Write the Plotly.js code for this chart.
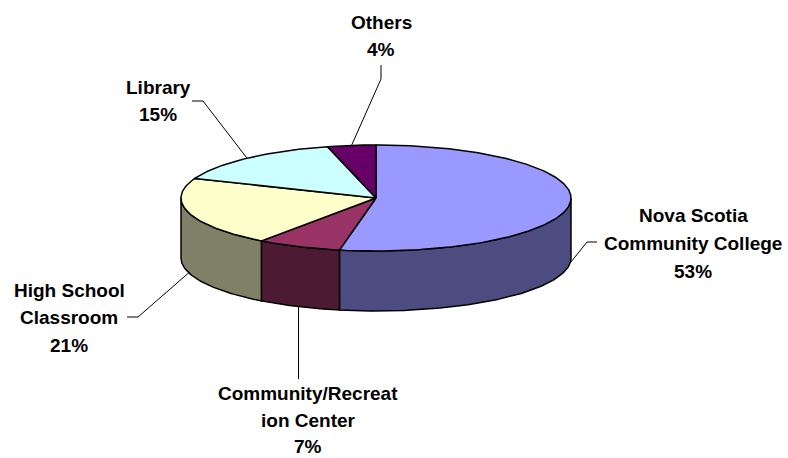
<!DOCTYPE html>
<html>
<head>
<meta charset="utf-8">
<script src="https://cdn.plot.ly/plotly-3.0.1.min.js"></script>
<style>html,body{margin:0;padding:0;background:#fff;}#chart{width:788px;height:458px;}</style>
</head>
<body>
<div id="chart"></div>
<script>
// ---- data ----
const categories = ['Nova Scotia Community College', 'Community/Recreation Center', 'High School Classroom', 'Library', 'Others'];
const values = [53, 7, 21, 15, 4];
const nameLines = [['Nova Scotia', 'Community College'], ['Community/Recreat', 'ion Center'], ['High School', 'Classroom'], ['Library'], ['Others']];
const topColors = ['#9999FF', '#993366', '#FFFFCC', '#CCFFFF', '#660066'];
const sideColors = ['#4C4C80', '#4C1A33', '#808066', '#668080', '#330033'];

// ---- geometry of the 3D pie (layout) ----
const CX = 376, CY = 198, A = 195, B = 53, DEPTH = 60;
function pt(deg, dy) {
  const r = deg * Math.PI / 180;
  return [CX + A * Math.sin(r), CY - B * Math.cos(r) + (dy || 0)];
}
function arc(from, to, dy) {
  const pts = [];
  const n = Math.max(2, Math.ceil(Math.abs(to - from)));
  for (let i = 0; i <= n; i++) pts.push(pt(from + (to - from) * i / n, dy));
  return pts;
}

const total = values.reduce((s, v) => s + v, 0);
let acc = 0;
const slices = values.map(v => { const s = acc; acc += v / total * 360; return [s, acc]; });

const traces = [];
// side walls (front half only)
slices.forEach((sl, i) => {
  const lo = Math.max(sl[0], 90), hi = Math.min(sl[1], 270);
  if (lo >= hi) return;
  const pts = arc(lo, hi, 0).concat(arc(hi, lo, DEPTH));
  pts.push(pts[0]);
  traces.push({x: pts.map(p => p[0]), y: pts.map(p => p[1]), mode: 'lines', fill: 'toself',
    fillcolor: sideColors[i], line: {color: '#000', width: 1.5}, hoverinfo: 'skip', showlegend: false});
});
// top faces
slices.forEach((sl, i) => {
  const pts = [[CX, CY]].concat(arc(sl[0], sl[1], 0));
  pts.push([CX, CY]);
  traces.push({x: pts.map(p => p[0]), y: pts.map(p => p[1]), mode: 'lines', fill: 'toself',
    fillcolor: topColors[i], line: {color: '#000', width: 1.5}, hoverinfo: 'skip', showlegend: false});
});

// label placement (layout): line centres and leader start points
const labelX = [693, 308, 69, 158, 381];
const labelY = [[215, 243, 271], [393, 420, 446], [290, 317, 345], [87, 114], [22, 49]];
const leaderStart = [[[597, 242], [587, 242]], [[null, 379]], [[127, 317], [138, 317]], [[192, 101], [203, 101]], [[381, 65], [381, 79]]];

const annotations = [];
slices.forEach((sl, i) => {
  const pct = Math.round(values[i] / total * 100) + '%';
  const lines = nameLines[i].concat([pct]);
  lines.forEach((t, j) => annotations.push({x: labelX[i], y: labelY[i][j], xref: 'x', yref: 'y', text: t,
    showarrow: false, xanchor: 'center', yanchor: 'middle',
    font: {family: 'Liberation Sans, Arial, sans-serif', size: 19, color: '#000', weight: 'bold'}}));
  // leader line anchored at slice mid-angle
  const mid = (sl[0] + sl[1]) / 2;
  const front = mid > 90 && mid < 270;
  const anchor = pt(mid, front ? DEPTH : 0);
  const pts = leaderStart[i].map(p => [p[0] === null ? anchor[0] : p[0], p[1]]).concat([anchor]);
  traces.push({x: pts.map(p => p[0]), y: pts.map(p => p[1]), mode: 'lines',
    line: {color: '#000', width: 1}, hoverinfo: 'skip', showlegend: false});
});

const layout = {
  width: 788, height: 458,
  margin: {l: 0, r: 0, t: 0, b: 0},
  paper_bgcolor: '#fff', plot_bgcolor: '#fff',
  xaxis: {range: [0, 788], visible: false, fixedrange: true},
  yaxis: {range: [458, 0], visible: false, fixedrange: true},
  showlegend: false,
  annotations: annotations
};
Plotly.newPlot('chart', traces, layout, {staticPlot: true, displayModeBar: false});
</script>
</body>
</html>
